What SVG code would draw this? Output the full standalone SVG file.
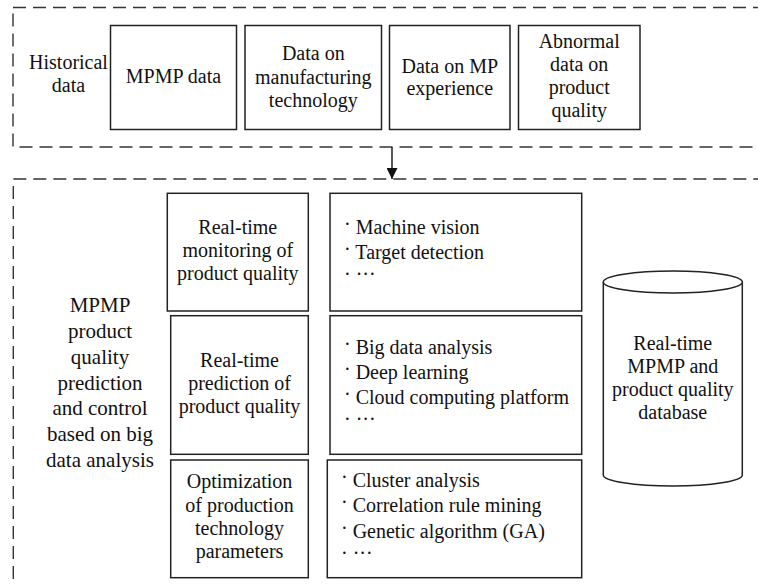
<svg xmlns="http://www.w3.org/2000/svg" width="758" height="586" viewBox="0 0 758 586">
<defs>
<style>
.dash{fill:none;stroke:#333;stroke-width:1.4;stroke-dasharray:13 7}
.box{fill:#fff;stroke:#222;stroke-width:1.5}
text{font-family:'Liberation Serif';font-size:20px;fill:#111}
.c{text-anchor:middle}
.b21{font-size:21px}
.line{stroke:#111;stroke-width:1.4;fill:none}
</style>
<marker id="arr" viewBox="0 0 10 10" refX="10" refY="5" markerWidth="11" markerHeight="11" markerUnits="userSpaceOnUse" orient="auto">
<path d="M0,0 L10,5 L0,10 z" fill="#111"/>
</marker>
</defs>
<rect width="758" height="586" fill="#fff"/>
<g font-family="Liberation Serif">

<g id="historical-group">
<rect class="dash" x="13" y="7.5" width="770" height="139.5"/>
<text class="c" x="68.5" y="68.5">Historical</text>
<text class="c" x="68.5" y="91.5">data</text>
</g>

<g id="mpmp-data">
<rect class="box" x="110.5" y="25.5" width="126" height="104"/>
<text class="c" x="173.5" y="83">MPMP data</text>
</g>

<g id="manufacturing-data">
<rect class="box" x="245" y="25.5" width="136.5" height="104"/>
<text class="c" x="313.3" y="60">Data on</text>
<text class="c" x="313.3" y="83.5">manufacturing</text>
<text class="c" x="313.3" y="106.5">technology</text>
</g>

<g id="mp-experience">
<rect class="box" x="389.5" y="25.5" width="120.5" height="104"/>
<text class="c" x="449.8" y="73">Data on MP</text>
<text class="c" x="449.8" y="95">experience</text>
</g>

<g id="abnormal-data">
<rect class="box" x="518.5" y="25.5" width="121.5" height="104"/>
<text class="c" x="579.2" y="48">Abnormal</text>
<text class="c" x="579.2" y="71">data on</text>
<text class="c" x="579.2" y="94">product</text>
<text class="c" x="579.2" y="117">quality</text>
</g>

<g id="connectors">
<line class="line" x1="392" y1="147" x2="392" y2="179" marker-end="url(#arr)"/>
</g>

<g id="analysis-group">
<rect class="dash" x="13.3" y="179" width="770" height="420"/>
<text class="c b21" x="100" y="311.5">MPMP</text>
<text class="c b21" x="100" y="337.5">product</text>
<text class="c b21" x="100" y="363.5">quality</text>
<text class="c b21" x="100" y="389.5">prediction</text>
<text class="c b21" x="100" y="415">and control</text>
<text class="c b21" x="100" y="441">based on big</text>
<text class="c b21" x="100" y="467">data analysis</text>
</g>

<g id="monitoring">
<rect class="box" x="167.3" y="193.3" width="141" height="117.7"/>
<text class="c" x="237.8" y="234">Real-time</text>
<text class="c" x="237.8" y="257">monitoring of</text>
<text class="c" x="237.8" y="280">product quality</text>
</g>

<g id="monitoring-methods">
<rect class="box" x="330" y="193.3" width="251.7" height="117.7"/>
<text x="344" y="234"><tspan dy="-3">·</tspan><tspan dy="3"> Machine vision</tspan></text>
<text x="344" y="259"><tspan dy="-3">·</tspan><tspan dy="3"> Target detection</tspan></text>
<text x="344" y="284"><tspan dy="-3">· ···</tspan></text>
</g>

<g id="prediction">
<rect class="box" x="170.7" y="315.7" width="137.6" height="138.6"/>
<text class="c" x="239.5" y="367">Real-time</text>
<text class="c" x="239.5" y="390">prediction of</text>
<text class="c" x="239.5" y="413">product quality</text>
</g>

<g id="prediction-methods">
<rect class="box" x="330" y="315.7" width="251.7" height="138.6"/>
<text x="344" y="354"><tspan dy="-3">·</tspan><tspan dy="3"> Big data analysis</tspan></text>
<text x="344" y="379"><tspan dy="-3">·</tspan><tspan dy="3"> Deep learning</tspan></text>
<text x="344" y="404"><tspan dy="-3">·</tspan><tspan dy="3"> Cloud computing platform</tspan></text>
<text x="344" y="429"><tspan dy="-3">· ···</tspan></text>
</g>

<g id="optimization">
<rect class="box" x="170.7" y="460" width="137.6" height="117.7"/>
<text class="c" x="239.5" y="488.3">Optimization</text>
<text class="c" x="239.5" y="511.6">of production</text>
<text class="c" x="239.5" y="534.9">technology</text>
<text class="c" x="239.5" y="558.2">parameters</text>
</g>

<g id="optimization-methods">
<rect class="box" x="327.3" y="460" width="254.4" height="117.7"/>
<text x="341" y="486.7"><tspan dy="-3">·</tspan><tspan dy="3"> Cluster analysis</tspan></text>
<text x="341" y="512"><tspan dy="-3">·</tspan><tspan dy="3"> Correlation rule mining</tspan></text>
<text x="341" y="537.5"><tspan dy="-3">·</tspan><tspan dy="3"> Genetic algorithm (GA)</tspan></text>
<text x="341" y="563"><tspan dy="-3">· ···</tspan></text>
</g>

<g id="database">
<path class="box" d="M603.3,282 L603.3,475 A69.5,11 0 0 0 742.3,475 L742.3,282"/>
<ellipse class="box" cx="672.8" cy="282" rx="69.5" ry="11"/>
<text class="c" x="672.8" y="350">Real-time</text>
<text class="c" x="672.8" y="373">MPMP and</text>
<text class="c" x="672.8" y="396">product quality</text>
<text class="c" x="672.8" y="419">database</text>
</g>
</g>
</svg>
